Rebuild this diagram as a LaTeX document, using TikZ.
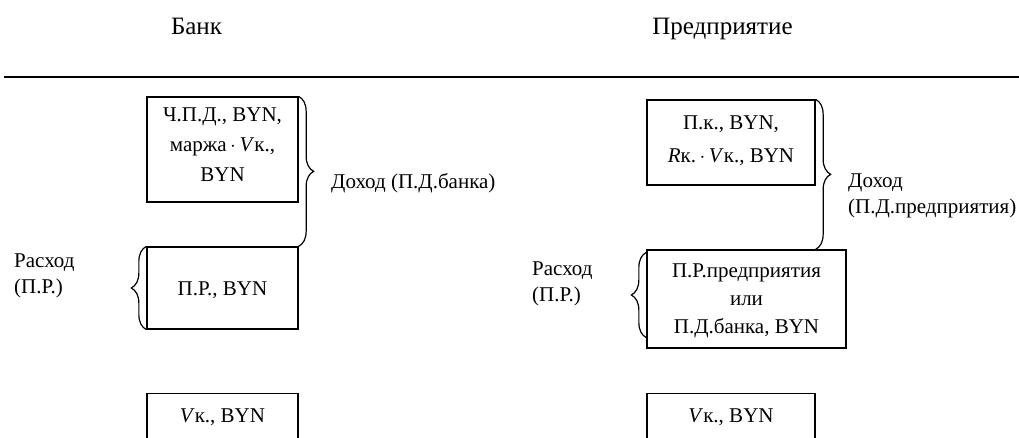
\documentclass[tikz,border=0pt]{standalone}
\usepackage{fontspec}
\setmainfont{Liberation Serif}
\usetikzlibrary{decorations.pathreplacing}
\begin{document}
\begin{tikzpicture}[x=1pt,y=-1pt,
  box/.style={draw, line width=1.3pt, inner sep=0pt},
  txt/.style={inner sep=0pt, align=center, font=\fontsize{21}{30}\selectfont},
  lbl/.style={inner sep=0pt, align=left, font=\fontsize{21}{26}\selectfont},
  ttl/.style={inner sep=0pt, anchor=base, font=\fontsize{25}{30}\selectfont},
  brc/.style={draw, line width=1.2pt, decorate, decoration={brace, amplitude=15pt}}]
\useasboundingbox (0,0) rectangle (1019,438);
\node[ttl] (tbank) at (196.5,35) {Банк};
\node[ttl] (tent) at (722.5,35) {Предприятие};
\coordinate (la) at (4,77);
\coordinate (lb) at (1019,77);
\draw[line width=1.5pt] (la) -- (lb);
% bank side
\node[box, minimum width=151pt, minimum height=105pt] (b1) at (222.5,149.5) {};
\node[txt] (t1) at (222.5,145) {Ч.П.Д., BYN,\\маржа\,$\cdot$\,\textit{V}к.,\\BYN};
\node[box, minimum width=151pt, minimum height=82pt] (b2) at (222.5,288) {};
\node[txt] (t2) at (222.5,290) {П.Р., BYN};
\node[box, minimum width=151pt, minimum height=60pt, anchor=north] (b3) at (222.5,393) {};
\node[txt] (t3) at (222.5,417) {\textit{V}к., BYN};
\draw[brc] (b1.north east) -- (b2.north east);
\node[lbl, anchor=west] (ld1) at (331,183) {Доход (П.Д.банка)};
\draw[brc] (b2.south west) -- (b2.north west);
\node[lbl, anchor=west] (lr1) at (14,276) {Расход\\(П.Р.)};
% enterprise side
\node[box, minimum width=168pt, minimum height=85pt] (b4) at (731,142.5) {};
\node[txt, font=\fontsize{21}{33}\selectfont] (t4) at (731,140.5) {П.к., BYN,\\\textit{R}к.\,$\cdot$\,\textit{V}к., BYN};
\node[box, minimum width=199pt, minimum height=98pt] (b5) at (746.5,299) {};
\node[txt, font=\fontsize{21}{28}\selectfont] (t5) at (746.5,301) {П.Р.предприятия\\или\\П.Д.банка, BYN};
\node[box, minimum width=168pt, minimum height=60pt, anchor=north] (b6) at (731,393) {};
\node[txt] (t6) at (731,417) {\textit{V}к., BYN};
\coordinate (c5) at (b4.north east |- b5.north);
\draw[brc] (b4.north east) -- (c5);
\node[lbl, anchor=west] (ld2) at (848,196) {Доход\\(П.Д.предприятия)};
\coordinate (c5a) at ([yshift=-3pt]b5.north west);
\coordinate (c5b) at ([yshift=11pt]b5.south west);
\draw[brc] (c5b) -- (c5a);
\node[lbl, anchor=west] (lr2) at (532,284) {Расход\\(П.Р.)};
\end{tikzpicture}
\end{document}
